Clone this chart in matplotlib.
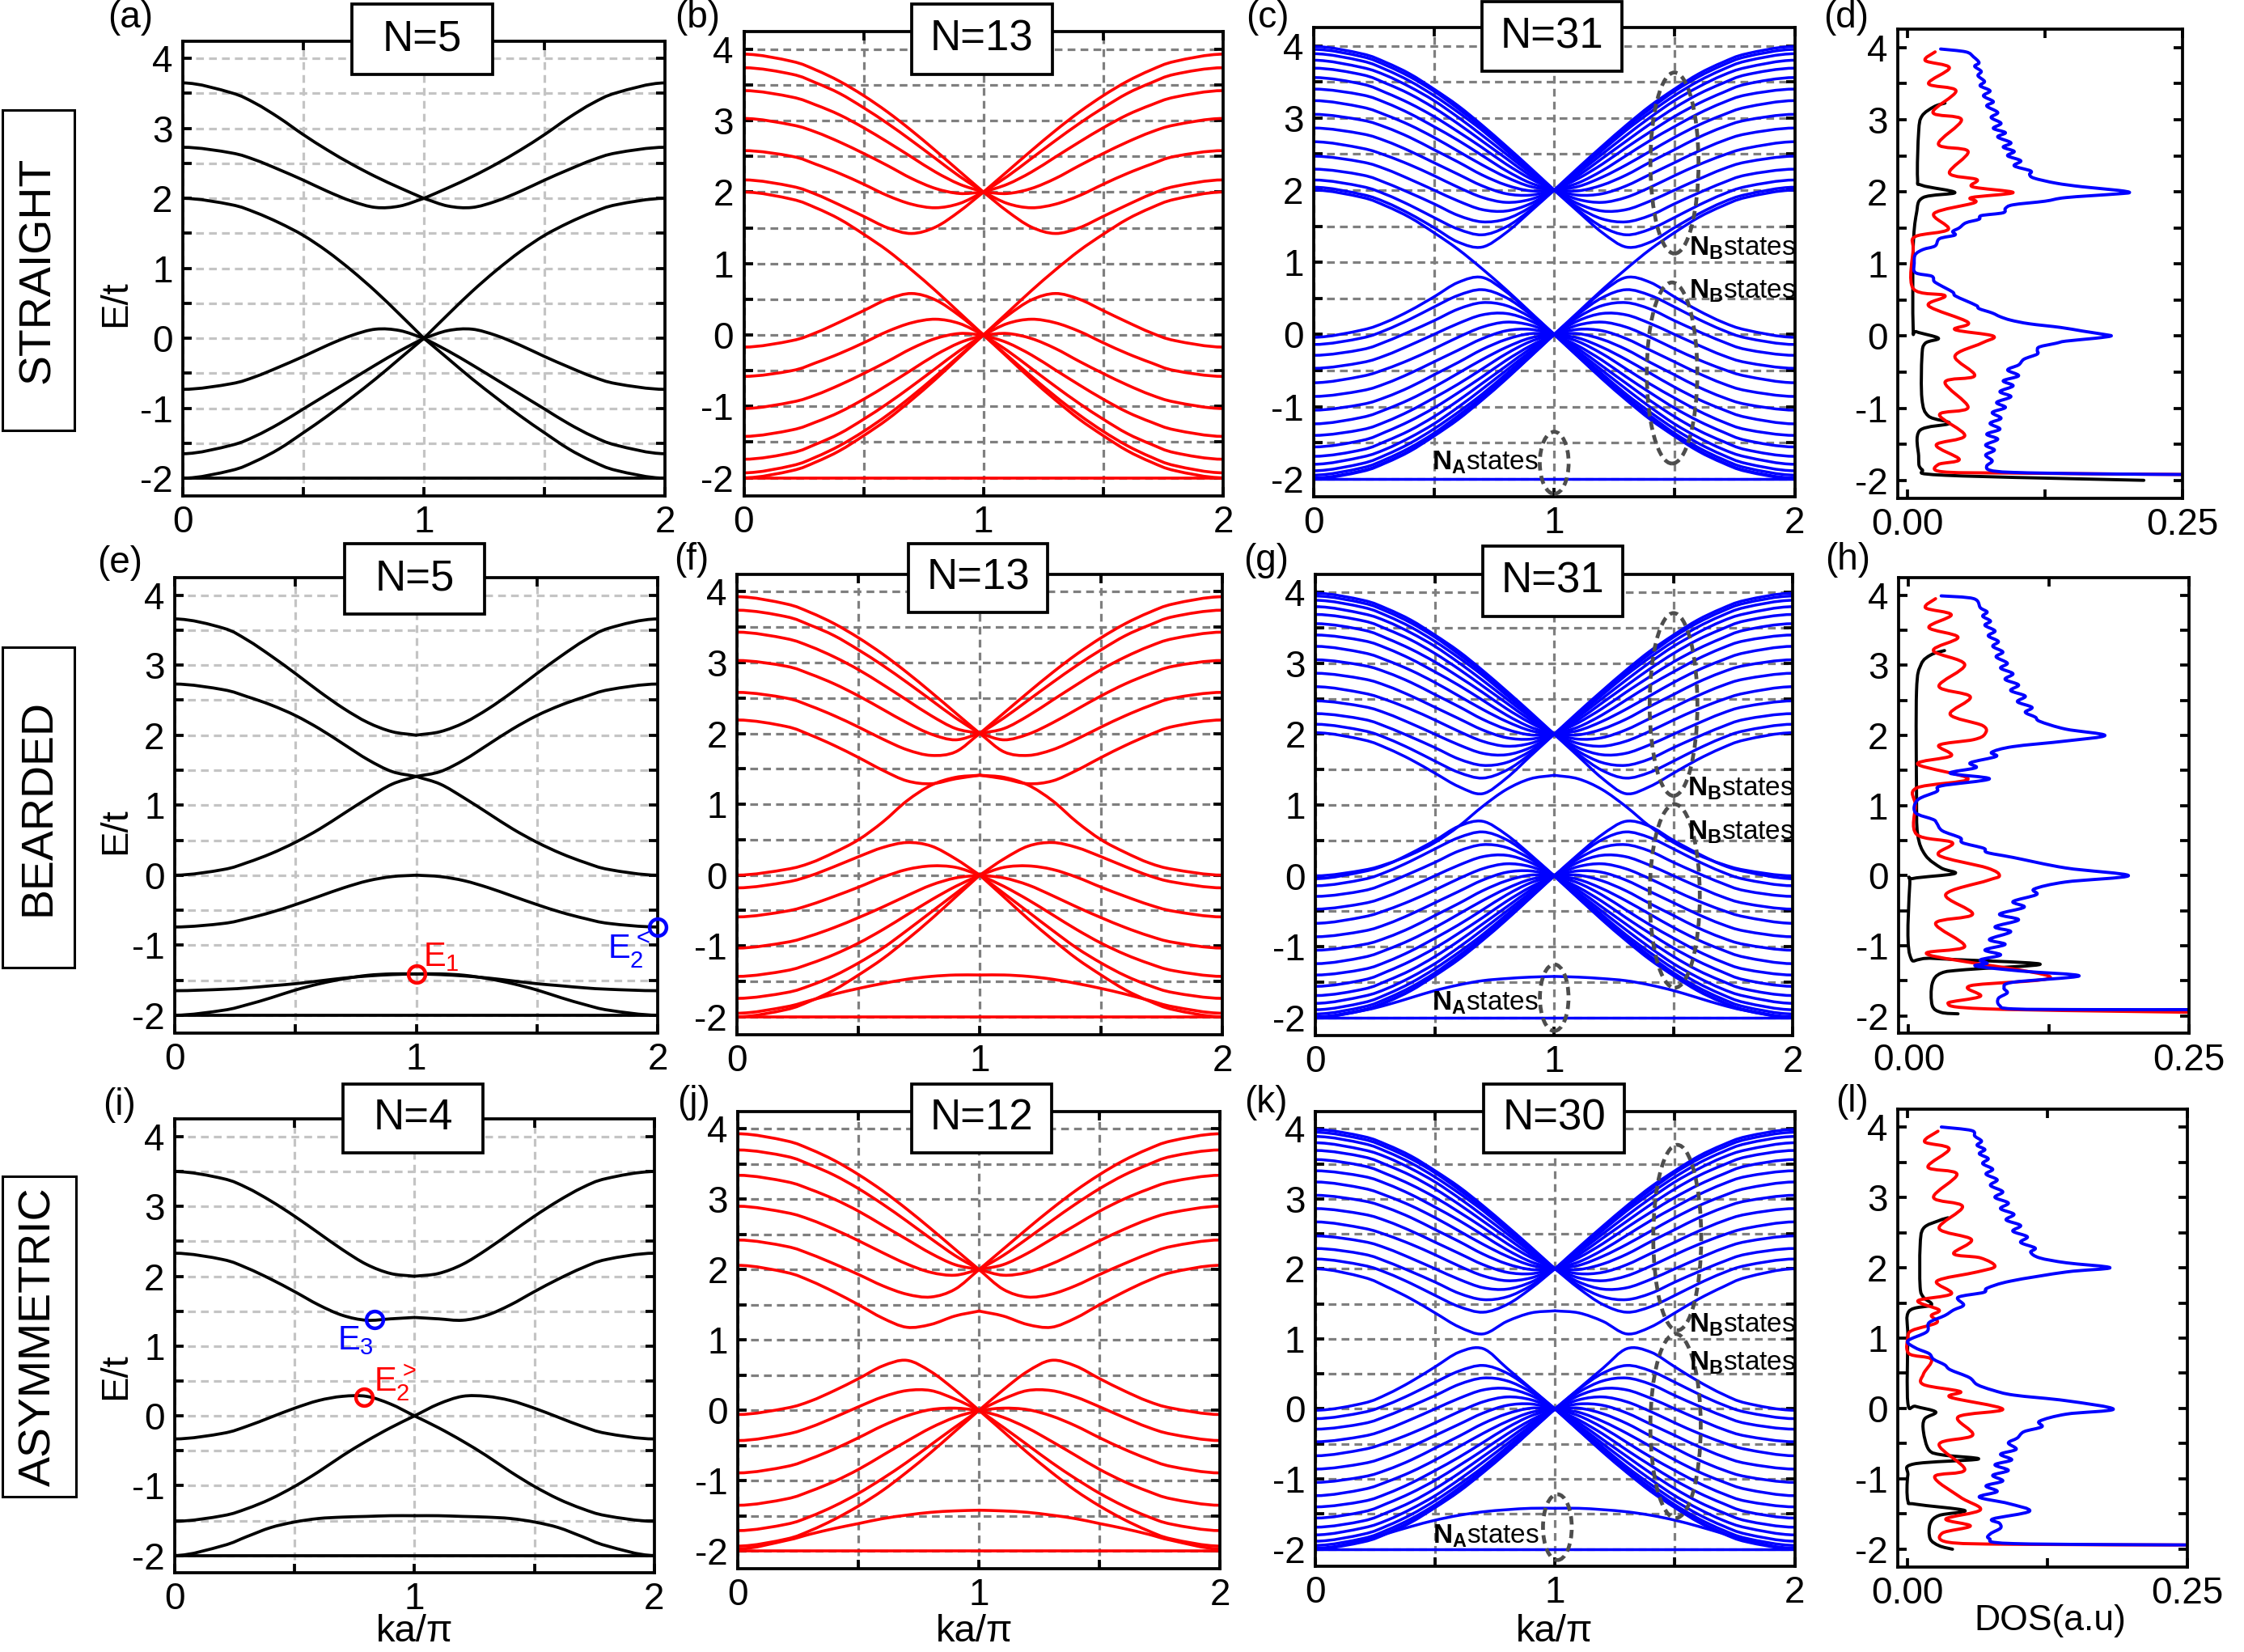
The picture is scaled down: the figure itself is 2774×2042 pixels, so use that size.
import matplotlib.pyplot as plt
from matplotlib.patches import Rectangle, Ellipse, PathPatch
from matplotlib.path import Path

plt.rcParams['font.family'] = ['Liberation Sans', 'DejaVu Sans']
plt.rcParams['axes.unicode_minus'] = False
plt.rcParams['mathtext.fontset'] = 'custom'
plt.rcParams['mathtext.rm'] = 'Liberation Sans'
plt.rcParams['mathtext.it'] = 'Liberation Sans'
plt.rcParams['mathtext.bf'] = 'Liberation Sans:bold'

# ---------------- data ----------------
# ka/pi on the first half of the zone, bands are mirrored about ka/pi = 1
k_half = [0, 0.2, 0.3, 0.4, 0.5, 0.6, 0.7, 0.8, 0.9, 1.0]
flat_band = -2.0

# (a) straight, N=5
bands_a = [
    [3.65, 3.51, 3.36, 3.15, 2.91, 2.69, 2.49, 2.31, 2.15, 2.0],
    [2.73, 2.65, 2.55, 2.41, 2.26, 2.10, 1.96, 1.87, 1.89, 2.0],
    [2.0, 1.91, 1.80, 1.65, 1.47, 1.24, 0.97, 0.67, 0.34, 0.0],
    [-0.73, -0.65, -0.55, -0.41, -0.26, -0.10, 0.04, 0.13, 0.11, 0.0],
    [-1.65, -1.53, -1.40, -1.22, -1.01, -0.80, -0.59, -0.38, -0.18, 0.0],
    [-2.0, -1.89, -1.76, -1.58, -1.35, -1.11, -0.85, -0.58, -0.29, 0.0],
]

# (e) bearded, N=5
bands_e = [
    [3.66, 3.53, 3.36, 3.13, 2.88, 2.62, 2.38, 2.18, 2.05, 2.0],
    [2.73, 2.65, 2.55, 2.43, 2.28, 2.09, 1.87, 1.65, 1.48, 1.41],
    [0.0, 0.08, 0.18, 0.31, 0.47, 0.66, 0.88, 1.10, 1.30, 1.41],
    [-0.74, -0.69, -0.62, -0.53, -0.42, -0.30, -0.18, -0.08, -0.02, 0.0],
    [-1.65, -1.63, -1.61, -1.58, -1.55, -1.51, -1.47, -1.44, -1.42, -1.41],
    [-2.0, -1.93, -1.85, -1.75, -1.64, -1.55, -1.48, -1.43, -1.41, -1.41],
]

# (i) asymmetric, N=4
bands_i = [
    [3.50, 3.40, 3.27, 3.08, 2.86, 2.62, 2.38, 2.17, 2.04, 2.0],
    [2.33, 2.24, 2.12, 1.96, 1.78, 1.59, 1.44, 1.37, 1.39, 1.41],
    [-0.33, -0.25, -0.15, -0.02, 0.11, 0.22, 0.28, 0.28, 0.17, 0.0],
    [-1.51, -1.43, -1.33, -1.19, -1.01, -0.80, -0.57, -0.36, -0.17, 0.0],
    [-2.0, -1.86, -1.73, -1.60, -1.52, -1.47, -1.45, -1.44, -1.43, -1.43],
]

# (b) straight, N=13
bands_b = [
    [3.93, 3.83, 3.71, 3.55, 3.35, 3.12, 2.86, 2.58, 2.29, 2.0],
    [3.74, 3.65, 3.53, 3.38, 3.18, 2.96, 2.72, 2.47, 2.22, 2.0],
    [3.42, 3.33, 3.22, 3.08, 2.90, 2.70, 2.49, 2.28, 2.11, 2.0],
    [3.03, 2.94, 2.84, 2.70, 2.54, 2.37, 2.19, 2.05, 1.98, 2.0],
    [2.58, 2.50, 2.39, 2.26, 2.11, 1.95, 1.83, 1.78, 1.84, 2.0],
    [2.17, 2.08, 1.97, 1.82, 1.66, 1.50, 1.42, 1.51, 1.73, 2.0],
    [2.0, 1.90, 1.78, 1.62, 1.41, 1.18, 0.91, 0.62, 0.31, 0.0],
    [-0.17, -0.08, 0.03, 0.18, 0.34, 0.50, 0.58, 0.49, 0.27, 0.0],
    [-0.58, -0.50, -0.39, -0.26, -0.11, 0.05, 0.17, 0.22, 0.16, 0.0],
    [-1.03, -0.94, -0.84, -0.70, -0.54, -0.37, -0.19, -0.05, 0.02, 0.0],
    [-1.42, -1.33, -1.22, -1.08, -0.90, -0.70, -0.49, -0.28, -0.11, 0.0],
    [-1.74, -1.65, -1.53, -1.38, -1.18, -0.96, -0.72, -0.47, -0.22, 0.0],
    [-1.93, -1.83, -1.71, -1.55, -1.35, -1.12, -0.86, -0.58, -0.29, 0.0],
    [-2.0, -1.90, -1.78, -1.62, -1.41, -1.18, -0.91, -0.62, -0.31, 0.0],
]

# (f) bearded, N=13
bands_f = [
    [3.93, 3.83, 3.71, 3.55, 3.35, 3.12, 2.86, 2.58, 2.29, 2.0],
    [3.74, 3.65, 3.53, 3.38, 3.18, 2.96, 2.72, 2.47, 2.22, 2.0],
    [3.43, 3.34, 3.23, 3.08, 2.90, 2.69, 2.47, 2.25, 2.07, 2.0],
    [3.03, 2.95, 2.84, 2.70, 2.53, 2.34, 2.15, 1.99, 1.91, 2.0],
    [2.58, 2.50, 2.39, 2.25, 2.09, 1.92, 1.77, 1.69, 1.74, 2.0],
    [2.19, 2.10, 1.98, 1.83, 1.66, 1.48, 1.33, 1.29, 1.36, 1.41],
    [0.0, 0.08, 0.17, 0.32, 0.50, 0.75, 1.05, 1.27, 1.38, 1.41],
    [-0.18, -0.10, -0.01, 0.12, 0.26, 0.39, 0.46, 0.41, 0.23, 0.0],
    [-0.59, -0.51, -0.42, -0.30, -0.17, -0.03, 0.08, 0.13, 0.11, 0.0],
    [-1.03, -0.95, -0.86, -0.74, -0.60, -0.45, -0.29, -0.14, -0.04, 0.0],
    [-1.43, -1.35, -1.25, -1.12, -0.96, -0.77, -0.56, -0.35, -0.16, 0.0],
    [-1.74, -1.66, -1.56, -1.42, -1.24, -1.03, -0.78, -0.52, -0.26, 0.0],
    [-2.0, -1.90, -1.78, -1.62, -1.41, -1.18, -0.91, -0.62, -0.31, 0.0],
    [-1.95, -1.86, -1.77, -1.68, -1.60, -1.53, -1.47, -1.43, -1.41, -1.41],
]

# (j) asymmetric, N=12
bands_j = [
    [3.93, 3.83, 3.71, 3.55, 3.35, 3.12, 2.86, 2.58, 2.29, 2.0],
    [3.70, 3.61, 3.49, 3.34, 3.15, 2.93, 2.69, 2.44, 2.20, 2.0],
    [3.34, 3.25, 3.14, 3.00, 2.83, 2.63, 2.43, 2.23, 2.07, 2.0],
    [2.90, 2.81, 2.71, 2.57, 2.41, 2.24, 2.08, 1.96, 1.92, 2.0],
    [2.42, 2.33, 2.22, 2.08, 1.93, 1.77, 1.65, 1.61, 1.72, 2.0],
    [2.06, 1.96, 1.84, 1.68, 1.50, 1.31, 1.18, 1.22, 1.34, 1.41],
    [-0.06, 0.03, 0.13, 0.28, 0.45, 0.63, 0.71, 0.55, 0.29, 0.0],
    [-0.43, -0.34, -0.24, -0.10, 0.05, 0.19, 0.28, 0.28, 0.16, 0.0],
    [-0.89, -0.80, -0.69, -0.55, -0.39, -0.22, -0.08, 0.01, 0.03, 0.0],
    [-1.35, -1.26, -1.15, -1.01, -0.84, -0.64, -0.44, -0.25, -0.10, 0.0],
    [-1.71, -1.62, -1.51, -1.36, -1.18, -0.97, -0.74, -0.49, -0.24, 0.0],
    [-1.93, -1.83, -1.71, -1.55, -1.36, -1.14, -0.88, -0.60, -0.30, 0.0],
    [-1.97, -1.85, -1.76, -1.68, -1.61, -1.54, -1.49, -1.45, -1.43, -1.42],
]

# wide ribbons (N=31 / N=30): bulk bands common to (c), (g), (k)
bulk_upper = [
    [3.99, 3.89, 3.77, 3.61, 3.40, 3.17, 2.90, 2.61, 2.31, 2.0],
    [3.95, 3.85, 3.73, 3.57, 3.37, 3.13, 2.87, 2.59, 2.29, 2.0],
    [3.89, 3.79, 3.67, 3.51, 3.31, 3.08, 2.83, 2.55, 2.27, 2.0],
    [3.80, 3.70, 3.59, 3.43, 3.24, 3.01, 2.76, 2.50, 2.24, 2.0],
    [3.69, 3.60, 3.48, 3.33, 3.14, 2.92, 2.68, 2.44, 2.20, 2.0],
    [3.56, 3.47, 3.35, 3.20, 3.02, 2.81, 2.59, 2.36, 2.16, 2.0],
    [3.40, 3.32, 3.21, 3.06, 2.88, 2.69, 2.48, 2.27, 2.10, 2.0],
    [3.24, 3.15, 3.04, 2.90, 2.73, 2.54, 2.35, 2.18, 2.05, 2.0],
    [3.05, 2.97, 2.87, 2.73, 2.56, 2.39, 2.21, 2.07, 1.99, 2.0],
    [2.86, 2.78, 2.68, 2.54, 2.38, 2.22, 2.06, 1.95, 1.93, 2.0],
    [2.67, 2.58, 2.48, 2.35, 2.20, 2.04, 1.90, 1.83, 1.87, 2.0],
    [2.47, 2.39, 2.29, 2.15, 2.00, 1.85, 1.73, 1.71, 1.81, 2.0],
    [2.29, 2.21, 2.10, 1.96, 1.81, 1.65, 1.56, 1.60, 1.76, 2.0],
    [2.14, 2.05, 1.94, 1.79, 1.62, 1.46, 1.38, 1.49, 1.72, 2.0],
]
bulk_lower = [
    [-1.99, -1.89, -1.77, -1.61, -1.40, -1.17, -0.90, -0.61, -0.31, 0.0],
    [-1.95, -1.85, -1.73, -1.57, -1.37, -1.13, -0.87, -0.59, -0.29, 0.0],
    [-1.89, -1.79, -1.67, -1.51, -1.31, -1.08, -0.83, -0.55, -0.27, 0.0],
    [-1.80, -1.70, -1.59, -1.43, -1.24, -1.01, -0.76, -0.50, -0.24, 0.0],
    [-1.69, -1.60, -1.48, -1.33, -1.14, -0.92, -0.68, -0.44, -0.20, 0.0],
    [-1.56, -1.47, -1.35, -1.20, -1.02, -0.81, -0.59, -0.36, -0.16, 0.0],
    [-1.40, -1.32, -1.21, -1.06, -0.88, -0.69, -0.48, -0.27, -0.10, 0.0],
    [-1.24, -1.15, -1.04, -0.90, -0.73, -0.54, -0.35, -0.18, -0.05, 0.0],
    [-1.05, -0.97, -0.87, -0.73, -0.56, -0.39, -0.21, -0.07, 0.01, 0.0],
    [-0.86, -0.78, -0.68, -0.54, -0.38, -0.22, -0.06, 0.05, 0.07, 0.0],
    [-0.67, -0.58, -0.48, -0.35, -0.20, -0.04, 0.10, 0.17, 0.13, 0.0],
    [-0.47, -0.39, -0.29, -0.15, 0.00, 0.15, 0.27, 0.29, 0.19, 0.0],
    [-0.29, -0.21, -0.10, 0.04, 0.19, 0.35, 0.44, 0.40, 0.24, 0.0],
    [-0.14, -0.05, 0.06, 0.21, 0.38, 0.54, 0.62, 0.51, 0.28, 0.0],
    [-2.0, -1.90, -1.78, -1.62, -1.41, -1.18, -0.91, -0.62, -0.31, 0.0],
]
# bands near the gap, different for each edge type
bands_c = [
    [2.04, 1.94, 1.83, 1.67, 1.48, 1.28, 1.21, 1.41, 1.70, 2.0],
    [2.0, 1.90, 1.78, 1.62, 1.41, 1.18, 0.91, 0.62, 0.31, 0.0],
    [-0.04, 0.06, 0.17, 0.33, 0.52, 0.72, 0.79, 0.59, 0.30, 0.0],
]
bands_g = [
    [2.02, 1.92, 1.80, 1.64, 1.45, 1.26, 1.16, 1.38, 1.69, 2.0],
    [0.0, 0.08, 0.17, 0.30, 0.47, 0.70, 0.98, 1.22, 1.37, 1.42],
    [-0.04, 0.06, 0.16, 0.32, 0.50, 0.70, 0.77, 0.58, 0.30, 0.0],
    [-2.0, -1.90, -1.82, -1.72, -1.62, -1.54, -1.48, -1.45, -1.43, -1.42],
]
bands_k = [
    [2.0, 1.88, 1.74, 1.57, 1.37, 1.17, 1.07, 1.25, 1.37, 1.40],
    [-0.02, 0.08, 0.21, 0.39, 0.60, 0.81, 0.86, 0.58, 0.29, 0.0],
    [-2.0, -1.88, -1.78, -1.68, -1.59, -1.52, -1.47, -1.44, -1.42, -1.42],
]

# DOS curves: (energy, dos) pairs along each trace
dos_d_black = [(3.23, .034), (3.18, .024), (3.05, .013), (2.83, .010), (2.19, .009), (2.09, .013),
               (1.99, .043), (1.92, .014), (1.70, .008), (1.20, .005), (0.12, .005), (0.06, .008),
               (-0.03, .028), (-0.10, .016), (-0.28, .013), (-0.87, .013), (-1.11, .019), (-1.21, .038),
               (-1.31, .011), (-1.66, .010), (-1.85, .013), (-1.93, .034), (-2.0, .215)]
dos_d_red = [(3.94, .025), (3.82, .016), (3.72, .038), (3.50, .019), (3.40, .044), (3.10, .023),
             (3.00, .049), (2.66, .028), (2.56, .055), (2.26, .038), (2.17, .063), (2.07, .059),
             (1.99, .096), (1.92, .058), (1.85, .061), (1.70, .024), (1.48, .037), (1.38, .007),
             (1.20, .005), (0.66, .005), (0.56, .034), (0.42, .019), (0.19, .055), (0.09, .043),
             (0.0, .078), (-0.10, .067), (-0.28, .043), (-0.55, .061), (-0.64, .034), (-0.99, .055),
             (-1.09, .029), (-1.38, .052), (-1.51, .026), (-1.71, .047), (-1.78, .028), (-1.88, .031),
             (-1.90, .096), (-1.92, .26)]
dos_d_blue = [(3.98, .030), (3.94, .053), (3.87, .060), (3.79, .065), (3.74, .061), (3.67, .067),
              (3.61, .064), (3.53, .070), (3.47, .066), (3.40, .075), (3.33, .069), (3.25, .078),
              (3.19, .072), (3.10, .082), (3.03, .076), (2.95, .085), (2.88, .078), (2.82, .089),
              (2.76, .082), (2.68, .094), (2.62, .087), (2.56, .097), (2.50, .091), (2.43, .103),
              (2.36, .097), (2.29, .112), (2.24, .111), (2.19, .115), (2.12, .135), (2.07, .159),
              (2.02, .192), (1.99, .202), (1.97, .190), (1.92, .144), (1.87, .125), (1.82, .096),
              (1.77, .089), (1.71, .087), (1.67, .067), (1.62, .065), (1.57, .053), (1.50, .047),
              (1.45, .041), (1.40, .043), (1.35, .029), (1.25, .025), (1.20, .014), (1.13, .007),
              (1.01, .006), (0.88, .007), (0.83, .022), (0.76, .024), (0.71, .029), (0.61, .041),
              (0.56, .043), (0.49, .053), (0.42, .063), (0.38, .065), (0.32, .077), (0.27, .084),
              (0.22, .094), (0.17, .111), (0.12, .139), (0.07, .159), (0.02, .180), (0.0, .185),
              (-0.03, .171), (-0.07, .144), (-0.10, .135), (-0.15, .120), (-0.20, .118), (-0.25, .118),
              (-0.32, .106), (-0.40, .101), (-0.47, .091), (-0.55, .101), (-0.62, .087), (-0.69, .096),
              (-0.77, .084), (-0.84, .094), (-0.92, .081), (-0.99, .089), (-1.06, .077), (-1.14, .085),
              (-1.21, .075), (-1.29, .084), (-1.36, .072), (-1.43, .082), (-1.51, .071), (-1.58, .079),
              (-1.65, .071), (-1.73, .077), (-1.80, .072), (-1.86, .075), (-1.89, .096), (-1.91, .168),
              (-1.92, .26)]

dos_h_black = [(3.21, .032), (3.15, .020), (3.01, .011), (2.63, .007), (1.20, .007), (0.59, .008),
               (0.29, .015), (0.11, .029), (0.03, .041), (-0.04, .004), (-0.12, .001), (-1.13, .001),
               (-1.18, .022), (-1.26, .117), (-1.34, .051), (-1.39, .029), (-1.54, .021), (-1.85, .021),
               (-1.95, .029), (-1.97, .044)]
dos_h_red = [(3.95, .024), (3.82, .015), (3.72, .038), (3.54, .018), (3.40, .044), (3.21, .022),
             (3.01, .050), (2.70, .027), (2.55, .055), (2.30, .037), (2.14, .066), (2.02, .068),
             (1.94, .058), (1.86, .027), (1.71, .038), (1.59, .008), (1.38, .053), (1.25, .007),
             (1.0, .006), (0.59, .007), (0.47, .039), (0.29, .027), (0.11, .070), (0.0, .081),
             (-0.07, .070), (-0.27, .033), (-0.55, .057), (-0.68, .024), (-1.01, .050), (-1.13, .018),
             (-1.44, .126), (-1.57, .055), (-1.72, .064), (-1.82, .035), (-1.90, .070), (-1.95, .26)]
dos_h_blue = [(3.99, .029), (3.95, .058), (3.82, .064), (3.76, .070), (3.70, .066), (3.63, .073),
              (3.57, .068), (3.49, .077), (3.42, .071), (3.34, .080), (3.27, .075), (3.19, .084),
              (3.12, .078), (3.03, .088), (2.96, .082), (2.88, .093), (2.80, .086), (2.72, .098),
              (2.64, .091), (2.56, .104), (2.48, .097), (2.40, .110), (2.33, .104), (2.26, .113),
              (2.20, .117), (2.09, .140), (2.0, .175), (1.92, .140), (1.84, .093), (1.76, .074),
              (1.70, .078), (1.61, .055), (1.54, .060), (1.46, .037), (1.38, .072), (1.28, .029),
              (1.20, .025), (1.08, .008), (0.90, .006), (0.80, .022), (0.75, .025), (0.64, .030),
              (0.54, .046), (0.47, .048), (0.39, .067), (0.33, .070), (0.26, .093), (0.11, .140),
              (0.0, .196), (-0.09, .140), (-0.19, .112), (-0.27, .114), (-0.37, .093), (-0.45, .103),
              (-0.55, .081), (-0.63, .098), (-0.73, .077), (-0.80, .091), (-0.91, .072), (-0.98, .086),
              (-1.06, .068), (-1.13, .082), (-1.20, .064), (-1.25, .070), (-1.29, .060), (-1.36, .100),
              (-1.43, .152), (-1.52, .093), (-1.60, .085), (-1.67, .088), (-1.75, .080), (-1.85, .081),
              (-1.90, .093), (-1.91, .164), (-1.91, .26)]

dos_l_black = [(2.71, .036), (2.67, .028), (2.56, .014), (2.30, .011), (1.73, .011), (1.58, .014),
               (1.47, .021), (1.38, .001), (1.01, .0), (0.08, .0), (0.03, .007), (-0.05, .025),
               (-0.15, .015), (-0.33, .014), (-0.59, .019), (-0.66, .031), (-0.72, .063), (-0.79, .005),
               (-0.95, .0), (-1.31, .0), (-1.36, .007), (-1.45, .051), (-1.52, .028), (-1.64, .020),
               (-1.85, .020), (-1.95, .028), (-2.0, .040)]
dos_l_red = [(3.94, .027), (3.79, .015), (3.69, .037), (3.43, .018), (3.33, .044), (3.0, .023),
             (2.87, .049), (2.56, .028), (2.40, .057), (2.20, .041), (2.14, .065), (2.02, .078),
             (1.94, .062), (1.81, .026), (1.63, .039), (1.53, .009), (1.40, .028), (1.32, .021),
             (1.22, .026), (1.11, .004), (1.01, .0), (0.78, .001), (0.70, .021), (0.49, .014),
             (0.34, .014), (0.24, .047), (0.16, .038), (-0.01, .085), (-0.12, .045), (-0.38, .058),
             (-0.51, .028), (-0.87, .051), (-0.97, .024), (-1.26, .047), (-1.44, .065), (-1.57, .034),
             (-1.67, .056), (-1.77, .031), (-1.90, .036), (-1.93, .095), (-1.94, .26)]
dos_l_blue = [(4.0, .030), (3.95, .057), (3.87, .060), (3.80, .066), (3.74, .062), (3.68, .069),
              (3.62, .064), (3.55, .072), (3.48, .067), (3.40, .076), (3.33, .070), (3.25, .080),
              (3.17, .074), (3.08, .085), (3.00, .078), (2.92, .090), (2.84, .083), (2.76, .095),
              (2.68, .088), (2.60, .101), (2.52, .094), (2.44, .107), (2.36, .101), (2.28, .114),
              (2.22, .110), (2.14, .118), (2.07, .142), (2.0, .181), (1.94, .142), (1.81, .092),
              (1.71, .071), (1.65, .068), (1.58, .045), (1.47, .050), (1.40, .041), (1.32, .033),
              (1.22, .019), (1.09, .017), (0.96, .0), (0.86, .007), (0.78, .019), (0.70, .023),
              (0.62, .033), (0.55, .038), (0.44, .055), (0.34, .062), (0.26, .076), (0.19, .095),
              (0.11, .142), (-0.01, .184), (-0.08, .142), (-0.18, .118), (-0.26, .120), (-0.33, .104),
              (-0.42, .098), (-0.49, .090), (-0.58, .097), (-0.65, .083), (-0.73, .093), (-0.80, .078),
              (-0.88, .090), (-0.95, .076), (-1.03, .085), (-1.10, .070), (-1.18, .080), (-1.26, .064),
              (-1.35, .090), (-1.46, .109), (-1.57, .076), (-1.63, .082), (-1.70, .083), (-1.78, .074),
              (-1.85, .073), (-1.92, .095), (-1.94, .26)]

# ---------------- figure ----------------
W, H = 2774, 2042
fig = plt.figure(figsize=(W / 100, H / 100), dpi=100)


def px_rect(x0, x1, y0, y1):
    return [x0 / W, 1 - y1 / H, (x1 - x0) / W, (y1 - y0) / H]


def smooth(ax, pts, pre, post, color, lw, z=2):
    # Catmull-Rom through the read points, drawn as a Bezier path
    ext = [pre] + pts + [post]
    verts, codes = [pts[0]], [Path.MOVETO]
    for i in range(1, len(ext) - 2):
        p0, p1, p2, p3 = ext[i - 1], ext[i], ext[i + 1], ext[i + 2]
        c1 = (p1[0] + (p2[0] - p0[0]) / 6, p1[1] + (p2[1] - p0[1]) / 6)
        c2 = (p2[0] - (p3[0] - p1[0]) / 6, p2[1] - (p3[1] - p1[1]) / 6)
        verts += [c1, c2, p2]
        codes += [Path.CURVE4] * 3
    ax.add_patch(PathPatch(Path(verts, codes), fill=False, ec=color, lw=lw,
                           capstyle='round', joinstyle='round', zorder=z))


def draw_band(ax, vals, color, lw):
    pts = list(zip(k_half, vals))
    pre = (-k_half[1], vals[1])
    post = (2 * k_half[-1] - k_half[-2], 2 * vals[-1] - vals[-2])
    smooth(ax, pts, pre, post, color, lw)
    mir = [(2 - x, y) for x, y in pts]
    smooth(ax, mir, (2 - pre[0], pre[1]), (2 - post[0], post[1]), color, lw)


yt = [-2 + 0.5 * i for i in range(13)]
ytl = [str(int(v)) if v == int(v) else '' for v in yt]


def style(ax):
    for s in ax.spines.values():
        s.set_linewidth(2.7)
    ax.tick_params(direction='in', length=8, width=2.7, labelsize=33,
                   top=True, right=True)
    ax.tick_params(axis='x', pad=8)
    ax.tick_params(axis='y', pad=9)
    ax.set_ylim(-2.25, 4.25)
    ax.set_yticks(yt)
    ax.set_yticklabels(ytl)


def band_panel(rect, bands, color, lw, grid_color):
    ax = fig.add_axes(rect)
    for b in bands:
        draw_band(ax, b, color, lw)
    ax.plot([0, 2], [flat_band, flat_band], color=color, lw=lw)
    style(ax)
    ax.set_xlim(0, 2)
    ax.set_xticks([0, 0.5, 1, 1.5, 2])
    ax.set_xticklabels(['0', '', '1', '', '2'])
    ax.grid(True, color=grid_color, ls=(0, (3, 2)), lw=2.3)
    ax.set_axisbelow(True)
    return ax


def dos_panel(rect, curves):
    ax = fig.add_axes(rect)
    for pts, c in curves:
        xy = [(p[1], p[0]) for p in pts]
        smooth(ax, xy, xy[0], xy[-1], c, 2.8)
    style(ax)
    ax.set_xlim(-0.009, 0.25)
    ax.set_xticks([0, 0.125, 0.25])
    ax.set_xticklabels(['0.00', '', '0.25'])
    return ax


light, dark = '#c4c4c4', '#7f7f7f'
ax_a = band_panel(px_rect(226, 822, 50.6, 612.7), bands_a, 'black', 2.7, light)
ax_b = band_panel(px_rect(919.5, 1512, 38.7, 612.7), bands_b, 'red', 2.6, dark)
ax_c = band_panel(px_rect(1624, 2218.6, 34.3, 614), bulk_upper + bulk_lower + bands_c, 'blue', 2.5, dark)
ax_e = band_panel(px_rect(216, 813, 714, 1276.5), bands_e, 'black', 2.7, light)
ax_f = band_panel(px_rect(911.4, 1511, 709.6, 1278.7), bands_f, 'red', 2.6, dark)
ax_g = band_panel(px_rect(1626.3, 2216.3, 710.5, 1279.6), bulk_upper + bulk_lower + bands_g, 'blue', 2.5, dark)
ax_i = band_panel(px_rect(216, 808.8, 1383.4, 1944.3), bands_i, 'black', 2.7, light)
ax_j = band_panel(px_rect(912.3, 1508.3, 1373.6, 1938.9), bands_j, 'red', 2.6, dark)
ax_k = band_panel(px_rect(1625.9, 2218.6, 1373.6, 1936.2), bulk_upper + bulk_lower + bands_k, 'blue', 2.5, dark)

dos_panel(px_rect(2346, 2697.7, 36.5, 616),
          [(dos_d_black, 'black'), (dos_d_red, 'red'), (dos_d_blue, 'blue')])
dos_panel(px_rect(2347, 2706, 714, 1277.4),
          [(dos_h_black, 'black'), (dos_h_red, 'red'), (dos_h_blue, 'blue')])
dos_panel(px_rect(2346, 2703.6, 1371.3, 1936.7),
          [(dos_l_black, 'black'), (dos_l_red, 'red'), (dos_l_blue, 'blue')])

# marked states
mk = dict(marker='o', mfc='none', ms=15, mew=3.2, clip_on=False, zorder=5)
ax_e.plot([1.0], [-1.41], mec='red', **mk)
ax_e.text(1.03, -1.17, r'$E_1$', color='red', fontsize=30, va='center', ha='left')
ax_e.plot([2.0], [-0.74], mec='blue', **mk)
ax_e.text(1.97, -1.07, r'$E_2^<$', color='blue', fontsize=30, va='center', ha='right')
ax_i.plot([0.835], [1.38], mec='blue', **mk)
ax_i.text(0.83, 1.08, r'$E_3$', color='blue', fontsize=30, va='center', ha='right')
ax_i.plot([0.79], [0.27], mec='red', **mk)
ax_i.text(0.83, 0.47, r'$E_2^>$', color='red', fontsize=30, va='center', ha='left')

# dashed ellipses and state labels on the wide ribbons
ell = dict(fill=False, ec='#4d4d4d', lw=3.4, ls=(0, (2.2, 1.4)), clip_on=False, zorder=6)
for ax, up, lo, na in [(ax_c, (1.50, 2.375, 2.51), (1.49, -0.535, 2.51), (1.0, -1.78, 0.86)),
                       (ax_g, (1.50, 2.42, 2.58), (1.505, -0.285, 2.59), (1.0, -1.72, 0.94)),
                       (ax_k, (1.51, 2.445, 2.65), (1.503, -0.245, 2.63), (1.01, -1.69, 0.94))]:
    ax.add_patch(Ellipse((up[0], up[1]), 0.2, up[2], **ell))
    ax.add_patch(Ellipse((lo[0], lo[1]), 0.21, lo[2], **ell))
    ax.add_patch(Ellipse((na[0], na[1]), 0.12, na[2], **ell))

lab_nb = r'$\mathbf{N_B}$states'
lab_na = r'$\mathbf{N_A}$states'
for ax, y1, y2, ya in [(ax_c, 1.2, 0.6, -1.78), (ax_g, 1.23, 0.62, -1.8), (ax_k, 1.2, 0.65, -1.82)]:
    ax.text(1.56, y1, lab_nb, fontsize=24, va='center', ha='left', zorder=7)
    ax.text(1.56, y2, lab_nb, fontsize=24, va='center', ha='left', zorder=7)
    ax.text(0.935, ya, lab_na, fontsize=24, va='center', ha='right', zorder=7)

# N boxes on top of the band panels
nboxes = [('N=5', 435, 609, 5, 92), ('N=13', 1127, 1301, 5, 92), ('N=31', 1832, 2005, 2, 88),
          ('N=5', 426, 599, 672, 759), ('N=13', 1123, 1295, 672, 757), ('N=31', 1833, 2006, 675, 762),
          ('N=4', 424, 597, 1340, 1425), ('N=12', 1127, 1300, 1340, 1425), ('N=30', 1834, 2008, 1340, 1425)]
for txt, x0, x1, y0, y1 in nboxes:
    fig.add_artist(Rectangle((x0 / W, 1 - y1 / H), (x1 - x0) / W, (y1 - y0) / H,
                             transform=fig.transFigure, fc='white', ec='black', lw=2.7, zorder=10))
    fig.text((x0 + x1) / 2 / W, 1 - (y0 + y1) / 2 / H, txt, fontsize=38,
             ha='center', va='center', zorder=11)

# row labels
rows = [('STRAIGHT', 3, 92, 136, 532), ('BEARDED', 3, 92, 800, 1196), ('ASYMMETRIC', 3, 94, 1454, 1850)]
for txt, x0, x1, y0, y1 in rows:
    fig.add_artist(Rectangle((x0 / W, 1 - y1 / H), (x1 - x0) / W, (y1 - y0) / H,
                             transform=fig.transFigure, fc='white', ec='black', lw=2.2, zorder=10))
    fig.text((x0 + x1) / 2 / W, 1 - (y0 + y1) / 2 / H, txt, fontsize=40, rotation=90,
             ha='center', va='center', zorder=11)

# panel letters
letters = [('(a)', 189, 0), ('(b)', 890, 0), ('(c)', 1594, 0), ('(d)', 2310, 0),
           ('(e)', 176, 674), ('(f)', 876, 670), ('(g)', 1593, 671), ('(h)', 2312, 670),
           ('(i)', 168, 1344), ('(j)', 878, 1341), ('(k)', 1592, 1341), ('(l)', 2310, 1340)]
for txt, x, y in letters:
    fig.text(x / W, 1 - y / H, txt, fontsize=33, ha='right', va='top')

# axis titles
for y in [375, 1027, 1701]:
    fig.text(143 / W, 1 - y / H, 'E/t', fontsize=34, rotation=90, ha='center', va='center')
for x in [513, 1205, 1922]:
    fig.text(x / W, 1 - 2017 / H, 'ka/π', fontsize=34, ha='center', va='center')
fig.text(2534 / W, 1 - 2003 / H, 'DOS(a.u)', fontsize=32, ha='center', va='center')

fig.savefig('out.png', dpi=100)
